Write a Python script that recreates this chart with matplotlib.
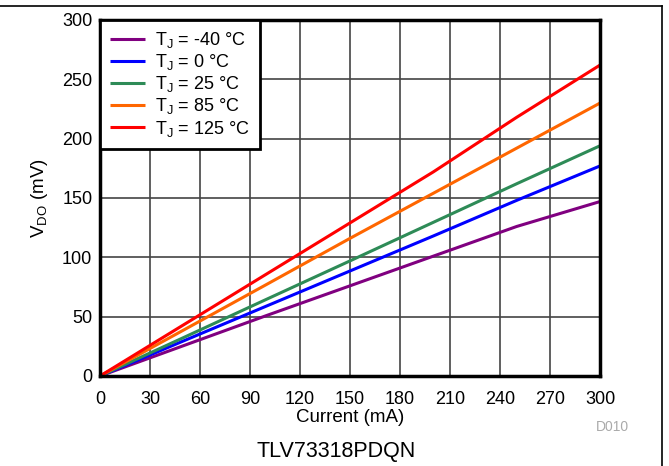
import matplotlib.pyplot as plt
from matplotlib.lines import Line2D

plt.rcParams['font.family'] = ['Liberation Sans', 'DejaVu Sans']

current = [0, 50, 100, 150, 200, 250, 300]
v_m40 = [0, 25.5, 51, 76, 101, 126, 147]
v_0 = [0, 29.5, 59, 88.5, 118, 148, 177]
v_25 = [0, 32.3, 64.7, 97, 129.5, 162, 194]
v_85 = [0, 38.6, 77.2, 116, 154, 192, 230]
v_125 = [0, 43, 86, 129, 172, 218, 262]

labels = ["T$_\\mathregular{J}$ = -40 °C", "T$_\\mathregular{J}$ = 0 °C",
          "T$_\\mathregular{J}$ = 25 °C", "T$_\\mathregular{J}$ = 85 °C",
          "T$_\\mathregular{J}$ = 125 °C"]
colors = ["#800080", "#0000ff", "#2e8b57", "#ff6600", "#ff0000"]
xticks = [0, 30, 60, 90, 120, 150, 180, 210, 240, 270, 300]
yticks = [0, 50, 100, 150, 200, 250, 300]

fig = plt.figure(figsize=(6.69, 4.66), dpi=100)
ax = fig.add_axes([100 / 669, 1 - 376 / 466, 500 / 669, 356 / 466])

for ys, c, lab in zip([v_m40, v_0, v_25, v_85, v_125], colors, labels):
    ax.plot(current, ys, color=c, lw=2.2, label=lab, solid_capstyle='butt')

ax.set_xlim(0, 300)
ax.set_ylim(0, 300)
ax.set_xticks(xticks)
ax.set_yticks(yticks)
ax.grid(True, color="#444444", lw=1.2)
ax.set_axisbelow(True)
ax.tick_params(length=0, labelsize=13)
ax.tick_params(axis="x", pad=10.5)
ax.tick_params(axis="y", pad=5.5)
for s in ax.spines.values():
    s.set_linewidth(2.5)
    s.set_color("black")

ax.set_xlabel("Current (mA)", fontsize=13.5)
ax.set_ylabel("V$_\\mathregular{DO}$ (mV)", fontsize=13.5)
ax.xaxis.set_label_coords(250 / 500, -(418 - 376) / 356)
ax.get_xaxis().label.set_va("center")
ax.yaxis.set_label_coords(-(100 - 40) / 500, 0.5)
ax.get_yaxis().label.set_va("center")

leg = ax.legend(loc="upper left", fontsize=13, frameon=True, fancybox=False,
                borderaxespad=0, handlelength=1.95, handletextpad=0.55,
                labelspacing=0.12, borderpad=0.55)
leg.get_frame().set_edgecolor("black")
leg.get_frame().set_linewidth(2)
leg.get_frame().set_alpha(1)

fig.text(336 / 669, 1 - 451 / 466, "TLV73318PDQN", ha="center", va="center",
         fontsize=15.5)
fig.text(612 / 669, 1 - 427 / 466, "D010", ha="center", va="center",
         fontsize=10, color="#aaaaaa")

fig.add_artist(Line2D([0, 662 / 669], [1 - 6 / 466, 1 - 6 / 466],
                      transform=fig.transFigure, color="black", lw=1.2))
fig.add_artist(Line2D([662 / 669, 662 / 669], [0, 1 - 6 / 466],
                      transform=fig.transFigure, color="black", lw=1.2))

fig.savefig("out.png", dpi=100)
